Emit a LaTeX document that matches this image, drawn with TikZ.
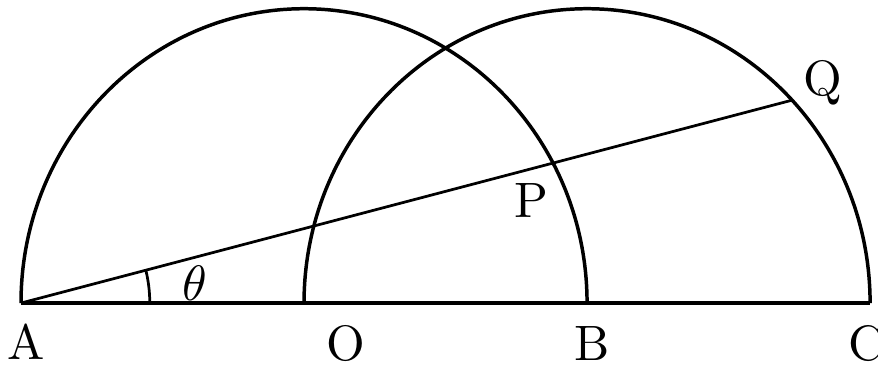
\documentclass[tikz,border=0pt]{standalone}
\usepackage{tikz}

\begin{document}
\begin{tikzpicture}[
    x=2cm, y=2.08cm,
    curve/.style={line width=0.7pt},
    ray/.style={line width=0.55pt},
    lbl/.style={inner sep=0pt, font=\normalsize}
]
\useasboundingbox (-0.0742,-0.2107) rectangle (3.028,1.0296);
\def\ang{14.2}
\coordinate (A) at (0,0);
\coordinate (O) at (1,0);
\coordinate (B) at (2,0);
\coordinate (C) at (3,0);
\coordinate (T) at (0.455,0);
\coordinate (P) at (\ang:{2*cos(\ang)});
\coordinate (Q) at (\ang:{2*cos(\ang)+sqrt(4*cos(\ang)^2-3)});

\draw[curve] (A) -- (C);
\draw[curve] (B) arc[start angle=0, end angle=180, radius=1];
\draw[curve] (C) arc[start angle=0, end angle=180, radius=1];
\draw[ray] (A) -- (Q);
\draw[ray] (T) arc[start angle=0, end angle=\ang, radius=0.455];

\node[lbl] (lA) at (0.018,-0.1325) {A};
\node[lbl] (lO) at (1.148,-0.139) {O};
\node[lbl] (lB) at (2.018,-0.139) {B};
\node[lbl] (lC) at (2.986,-0.139) {C};
\node[lbl] (lP) at (1.802,0.347) {P};
\node[lbl] (lQ) at (2.834,0.748) {Q};
\node[lbl] (lth) at (0.615,0.068) {$\theta$};
\end{tikzpicture}
\end{document}
